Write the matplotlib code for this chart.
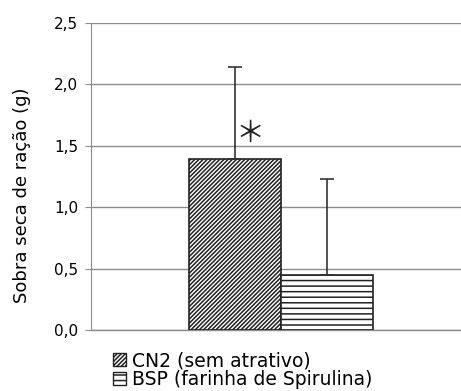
import matplotlib
matplotlib.use("Agg")
import matplotlib.pyplot as plt
from matplotlib.patches import Patch
from matplotlib.ticker import FuncFormatter

plt.rcParams['font.family'] = ['DejaVu Sans']
plt.rcParams['hatch.linewidth'] = 1.1
plt.rcParams['hatch.color'] = '#222222'

# data
groups = ['CN2 (sem atrativo)', 'BSP (farinha de Spirulina)']
means = [1.39, 0.45]
upper = [2.14, 1.23]
hatches = ['////////', '---']
yticks = [0.0, 0.5, 1.0, 1.5, 2.0, 2.5]

fig = plt.figure(figsize=(4.61, 3.91), dpi=100)
ax = fig.add_axes([0.197, 0.156, 0.803, 0.785])

pos = [0.5, 1.5]
for p, m, h, lab in zip(pos, means, hatches, groups):
    ax.bar(p, m, width=1.0, color='white', edgecolor='#222222',
           linewidth=1.2, hatch=h, label=lab, zorder=3)

errs = [u - m for u, m in zip(upper, means)]
ax.errorbar(pos, means, yerr=[[0, 0], errs], fmt='none', ecolor='#333333',
            elinewidth=1.2, capsize=5, capthick=1.2, zorder=4)

# significance mark
ax.text(pos[0] + 0.163, 1.60, '＊', fontsize=21, ha='center', va='center',
        color='#222222', family=['Noto Sans CJK JP', 'DejaVu Sans'])

ax.set_xlim(-1.065, 2.957)
ax.set_ylim(0, 2.5)
ax.set_yticks(yticks)
ax.yaxis.set_major_formatter(FuncFormatter(lambda v, _: f'{v:.1f}'.replace('.', ',')))
ax.set_xticks([])
ax.grid(axis='y', color='#8c8c8c', linewidth=1.0, zorder=0)
ax.axhline(0, color='#8c8c8c', linewidth=1.0, zorder=1, clip_on=False)
ax.tick_params(axis='y', length=4, color='#8c8c8c', labelsize=11, pad=5)
for s in ['top', 'right', 'bottom']:
    ax.spines[s].set_visible(False)
ax.spines['left'].set_color('#8c8c8c')

fig.text(22 / 461, 1 - 195 / 391, 'Sobra seca de ração (g)', rotation=90,
         ha='center', va='center', fontsize=13)

handles = [Patch(facecolor='white', edgecolor='#222222', hatch=h, label=g)
           for h, g in zip(hatches, groups)]
fig.legend(handles=handles, loc='upper left',
           bbox_to_anchor=(100 / 461, 1 - 338 / 391), frameon=False,
           fontsize=13.5, handlelength=0.68, handleheight=0.68,
           handletextpad=0.35, labelspacing=0.0, borderpad=0.2)

fig.savefig('out.png', dpi=100)
